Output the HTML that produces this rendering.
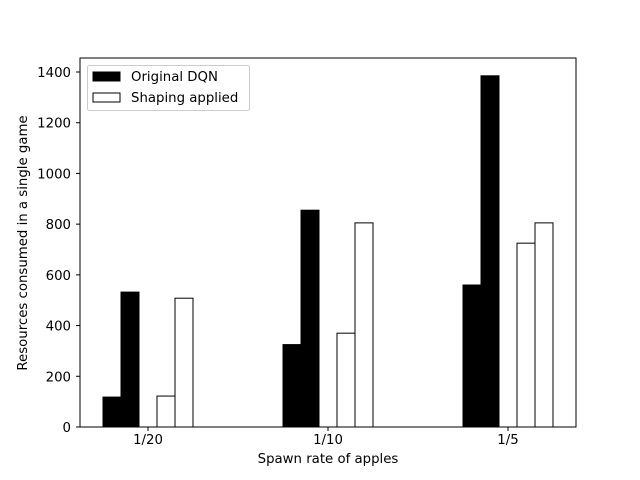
<!DOCTYPE html>
<html><head><meta charset="utf-8"><style>body{margin:0;background:#fff}svg{display:block;font-family:"DejaVu Sans","Liberation Sans",sans-serif}</style></head>
<body>
<svg id="c" width="640" height="480"></svg>
<script>
const categories = ["1/20","1/10","1/5"];
const dqnA = [118, 325, 560];
const dqnB = [532, 855, 1385];
const shapeA = [122, 370, 725];
const shapeB = [508, 805, 805];
const yTicks = [0,200,400,600,800,1000,1200,1400];

const NS="http://www.w3.org/2000/svg";
const svg=document.getElementById('c');
const L=80,R=576,T=58,B=427;
const FS=13.3;
const y=v=>B-v*(B-72)/1400;
const cx=i=>148+i*180;
function mk(tag,attrs,parent){const e=document.createElementNS(NS,tag);for(const k in attrs)e.setAttribute(k,attrs[k]);(parent||svg).appendChild(e);return e;}
const bars=mk('g',{});


const series=[[dqnA,-45,'#000','dqn-a'],[dqnB,-27,'#000','dqn-b'],[shapeA,9,'#fff','shaping-a'],[shapeB,27,'#fff','shaping-b']];
series.forEach(([vals,off,fill,nm])=>{
  vals.forEach((v,i)=>{
    const r=mk('rect',{x:cx(i)+off,y:y(v),width:18,height:B-y(v),fill:fill,stroke:'#000','stroke-width':1},bars);
    
    
  });
});
const frame=mk('rect',{x:L,y:T,width:R-L,height:B-T,fill:'none',stroke:'#000','stroke-width':1});


categories.forEach((c,i)=>{
  mk('line',{x1:cx(i),x2:cx(i),y1:B,y2:B+4,stroke:'#000'});
  const t=mk('text',{x:cx(i),y:B+17,'text-anchor':'middle','font-size':FS});
  t.textContent=c;
  
  
});
yTicks.forEach(v=>{
  mk('line',{x1:L-4,x2:L,y1:y(v),y2:y(v),stroke:'#000'});
  const t=mk('text',{x:L-9,y:y(v)+5,'text-anchor':'end','font-size':FS});
  t.textContent=v;
  
  
});
const xt=mk('text',{x:328,y:463,'text-anchor':'middle','font-size':FS});
xt.textContent='Spawn rate of apples';


const yt=mk('text',{x:27,y:243,'text-anchor':'middle','font-size':FS,transform:'rotate(-90 27 243)'});
yt.textContent='Resources consumed in a single game';


const lg=mk('g',{});


mk('rect',{x:87.5,y:65.5,width:162,height:45,rx:2,fill:'#fff',stroke:'#ccc'},lg);
mk('rect',{x:93,y:72,width:27,height:9,fill:'#000',stroke:'#000'},lg);
mk('rect',{x:93,y:93,width:27,height:9,fill:'#fff',stroke:'#000'},lg);
const l1=mk('text',{x:131,y:81,'font-size':FS},lg);l1.textContent='Original DQN';


const l2=mk('text',{x:131,y:102,'font-size':FS},lg);l2.textContent='Shaping applied';


</script>
</body></html>
